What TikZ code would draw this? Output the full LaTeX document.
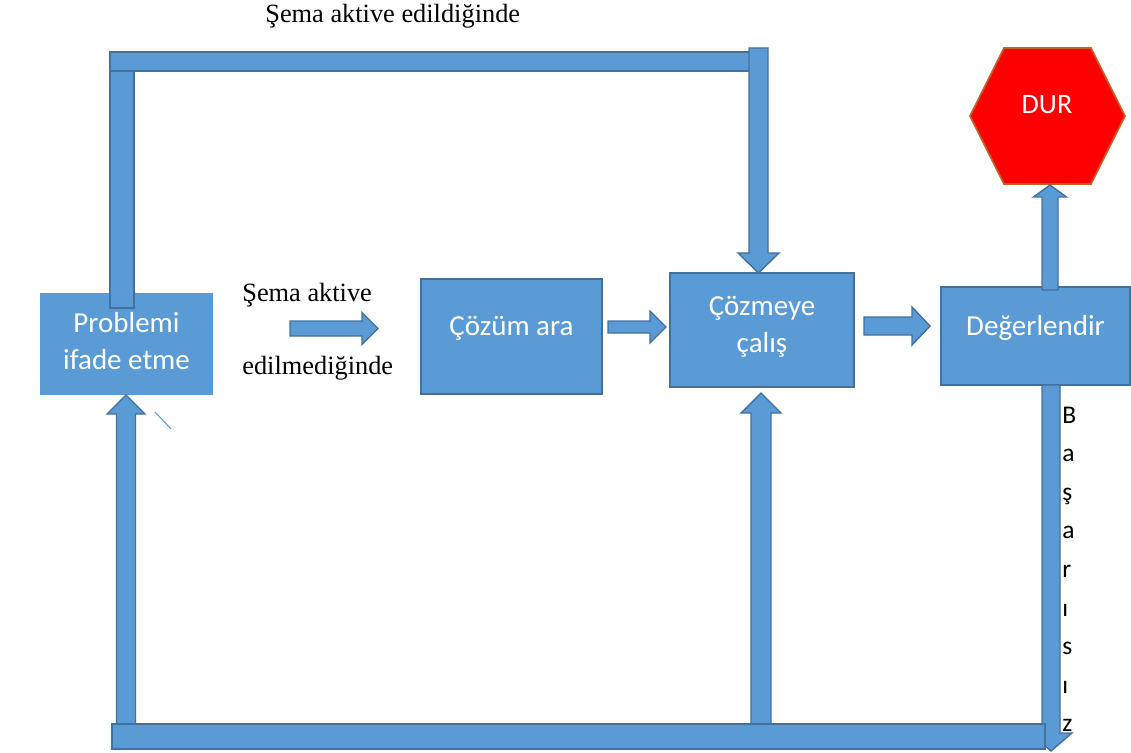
\documentclass[tikz,border=0pt]{standalone}
\usepackage{fontspec}
\setmainfont{Liberation Serif}
\newfontfamily\calibri{Carlito}
\usetikzlibrary{calc, positioning}

\definecolor{sky}{HTML}{5B9BD5}
\definecolor{bord}{HTML}{41719C}
\definecolor{stopred}{HTML}{FF0000}
\definecolor{stopedge}{RGB}{190,100,40}

\tikzset{
  shw/.store in=\shw, hdw/.store in=\hdw, hdl/.store in=\hdl,
  shw=2mm, hdw=4mm, hdl=4mm
}
% raise a box text without changing its size
\newcommand{\lift}[2]{\raisebox{#1}[\height][\depth]{#2}}
\newcommand{\twolines}[2]{\begin{tabular}{@{}c@{}}#1\\#2\end{tabular}}

\begin{document}
\begin{tikzpicture}[x=0.2mm, y=-0.2mm, line join=miter]

% Styles
\tikzstyle{box} = [rectangle, draw=bord, line width=0.8pt, fill=sky, text=white,
    align=center, inner sep=0pt, font=\calibri\fontsize{16.5}{21.5}\selectfont]
\tikzstyle{feedbar} = [draw=bord, fill=sky, line width=0.8pt]
\tikzstyle{blk} = [draw=bord, fill=sky, line width=0.8pt, to path={
    ($(\tikztostart)!\shw!90:(\tikztotarget)$)
 -- ($(\tikztotarget)!\hdl!(\tikztostart)!\shw!-90:(\tikztostart)$)
 -- ($(\tikztotarget)!\hdl!(\tikztostart)!\hdw!-90:(\tikztostart)$)
 -- (\tikztotarget)
 -- ($(\tikztotarget)!\hdl!(\tikztostart)!\hdw!90:(\tikztostart)$)
 -- ($(\tikztotarget)!\hdl!(\tikztostart)!\shw!90:(\tikztostart)$)
 -- ($(\tikztostart)!\shw!-90:(\tikztotarget)$)
 -- cycle}]
\tikzstyle{note} = [font=\fontsize{15}{18}\selectfont, anchor=base west, inner sep=0pt]

\useasboundingbox (0,0) rectangle (1131,753);

% Boxes
\node [box, draw=none, minimum width=34.6mm, minimum height=20.4mm] (prob) at (126.5,344) {\lift{0.1mm}{\twolines{Problemi}{ifade etme}}};
\node [box, minimum width=36.2mm, minimum height=23mm] (ara) at (511.5,336.5) {\lift{1.6mm}{Çözüm ara}};
\node [box, minimum width=36.8mm, minimum height=22.8mm] (coz) at (762,330) {\lift{0.7mm}{\twolines{Çözmeye}{çalış}}};
\node [box, minimum width=37.8mm, minimum height=19.6mm] (deg) at (1035.5,336) {\lift{1.6mm}{Değerlendir}};

% Stop sign
\draw [fill=stopred, draw=stopedge, line width=1pt] (970,116) -- (1004,48) -- (1091,48)
    -- (1125,116) -- (1091,184) -- (1004,184) -- cycle;
\node [font=\calibri\fontsize{16}{19}\selectfont, text=white, anchor=base, inner sep=0pt] (dur) at (1047,114) {DUR};
\coordinate (durb) at (1050,185);

% Connector end points
\coordinate (skipa) at (290,328.5);
\coordinate (skipb) at (378,328.5);
\coordinate (arao) at (608,327);
\coordinate (cozi) at (666,327);
\coordinate (cozo) at (864,326);
\coordinate (degi) at (930,326);
\coordinate (degt) at (1050,290);
\coordinate (degb) at (1051,385);
\coordinate (failend) at (1051,751);
\coordinate (lowl) at (126,724);
\coordinate (probb) at (126,395);
\coordinate (lowm) at (761,724);
\coordinate (cozb) at (761,393);
\coordinate (topr) at (758.5,48);
\coordinate (cozt) at (758.5,273);

% Short arrows
\draw [blk, shw=1.5mm, hdw=3.2mm, hdl=3.2mm] (skipa) to (skipb);
\draw [blk, shw=1.2mm, hdw=3.2mm, hdl=3.2mm] (arao) to (cozi);
\draw [blk, shw=1.8mm, hdw=3.8mm, hdl=3.6mm] (cozo) to (degi);
\draw [blk, shw=1.6mm, hdw=3.3mm, hdl=2.4mm] (degt) to (durb);

% Feedback loop below
\draw [blk, shw=1.8mm, hdw=4.2mm, hdl=3.6mm] (degb) to (failend);
\draw [blk, shw=1.9mm, hdw=3.8mm, hdl=3.8mm] (lowl) to (probb);
\draw [blk, shw=2mm, hdw=4mm, hdl=4mm] (lowm) to (cozb);
\draw [feedbar] (112,724) rectangle (1045,749);

% Feedback loop above
\draw [feedbar] (110,71) rectangle (134,308);
\draw [feedbar] (110,52) rectangle (750,71);
\draw [blk, shw=1.9mm, hdw=4.1mm, hdl=4mm] (topr) to (cozt);

\draw [sky, line width=0.6pt] (155,412) -- (171,429);

% Labels
\node [note] (top) at (265,23) {Şema aktive edildiğinde};
\node [note] (skip1) at (242,301) {Şema aktive};
\node [note] (skip2) at (242,374) {edilmediğinde};
\foreach \l [count=\i] in {B,a,ş,a,r,ı,s,ı,z}
  \node [font=\calibri\fontsize{14.5}{17}\selectfont, anchor=base west, inner sep=0pt] (fail\i) at (1062,{423+38.6*(\i-1)}) {\l};

\end{tikzpicture}
\end{document}
